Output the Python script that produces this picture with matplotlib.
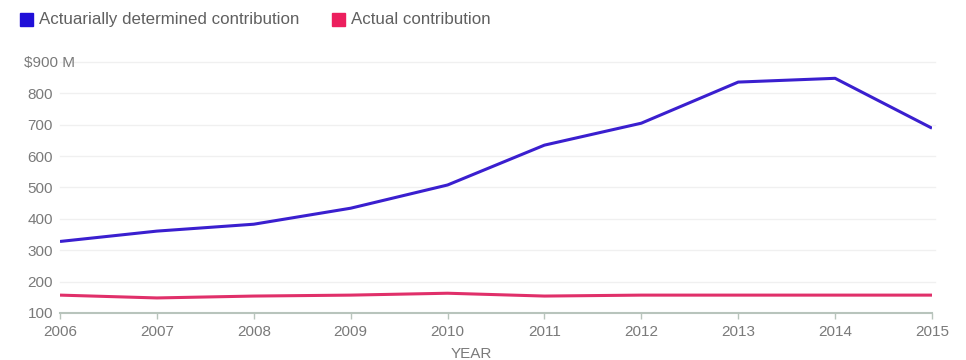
import matplotlib.pyplot as plt
from matplotlib.patches import Rectangle
import matplotlib.transforms as mtransforms

plt.rcParams['font.family'] = ['Liberation Sans', 'DejaVu Sans']

years = [2006, 2007, 2008, 2009, 2010, 2011, 2012, 2013, 2014, 2015]
determined = [328, 361, 383, 434, 508, 635, 705, 836, 848, 689]
actual = [157, 148, 154, 157, 163, 154, 157, 157, 157, 157]
yticks = [100, 200, 300, 400, 500, 600, 700, 800, 900]
ytick_labels = ["100", "200", "300", "400", "500", "600", "700", "800", "$900 M"]

blue = "#3a1fcf"
pink = "#e0306a"
text_grey = "#7a7a7a"

fig = plt.figure(figsize=(9.66, 3.6), dpi=100)
ax = fig.add_axes([60 / 966, 1 - 313 / 360, 872 / 966, 251 / 360])

ax.plot(years, determined, color=blue, lw=2.2, solid_capstyle="butt", zorder=3)
ax.plot(years, actual, color=pink, lw=2.2, solid_capstyle="butt", zorder=3)

ax.set_xlim(2006, 2015)
ax.set_ylim(100, 900)
ax.set_xticks(years)
ax.set_xticklabels([str(y) for y in years])
ax.set_yticks(yticks)
ax.set_yticklabels(ytick_labels)

for y in yticks[1:]:
    ax.axhline(y, color="#f0f0f0", lw=1, zorder=1, clip_on=False, xmax=1.003)

for s in ["top", "right", "left"]:
    ax.spines[s].set_visible(False)
ax.spines["bottom"].set_color("#b8c4bc")
ax.spines["bottom"].set_linewidth(1.5)

ax.tick_params(axis="x", colors="#b8c4bc", length=4, width=1, labelcolor=text_grey,
               labelsize=11, pad=5)
ax.tick_params(axis="y", length=0, labelcolor=text_grey, labelsize=11, pad=5)

# shift the top label so "$900" lines up with the column and " M" hangs right
top_label = ax.get_yticklabels()[-1]
top_label.set_transform(top_label.get_transform() +
                        mtransforms.ScaledTranslation(22 / 100, 0, fig.dpi_scale_trans))

ax.set_xlabel("YEAR", color=text_grey, fontsize=11, labelpad=2)
ax.xaxis.set_label_coords(0.472, -0.135)

# legend swatches across the top
fig.patches.append(Rectangle((20 / 966, 1 - 26 / 360), 13 / 966, 13 / 360,
                             transform=fig.transFigure, color="#1f0fd8"))
fig.text(39 / 966, 1 - 19.5 / 360, "Actuarially determined contribution",
         color="#606060", fontsize=12.2, va="center")
fig.patches.append(Rectangle((332 / 966, 1 - 26 / 360), 13 / 966, 13 / 360,
                             transform=fig.transFigure, color="#ec1f5e"))
fig.text(351 / 966, 1 - 19.5 / 360, "Actual contribution",
         color="#606060", fontsize=12.2, va="center")

fig.savefig("out.png", dpi=100)
